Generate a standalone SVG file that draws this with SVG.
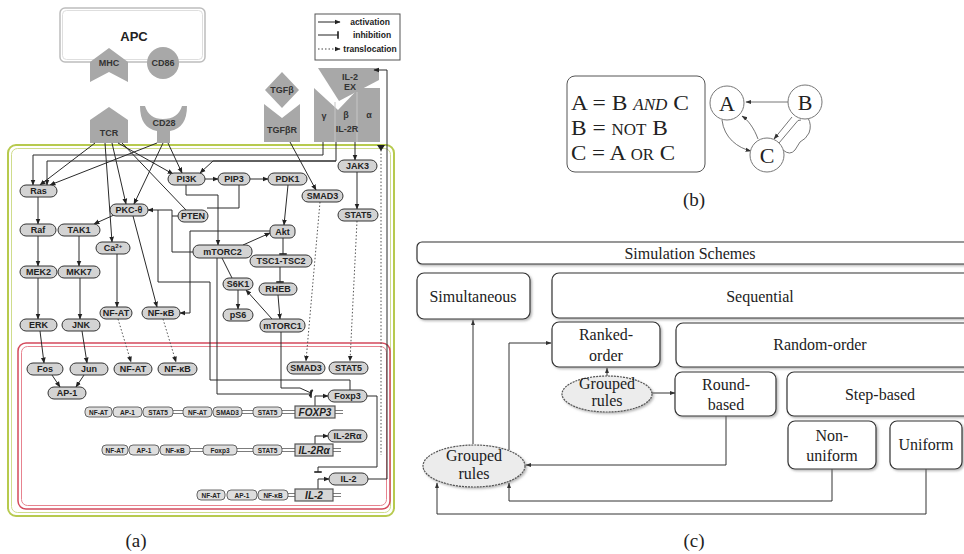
<svg xmlns="http://www.w3.org/2000/svg" width="964" height="554" viewBox="0 0 964 554">
<defs>
<marker id="ar" viewBox="0 0 10 10" refX="9" refY="5" markerWidth="6" markerHeight="6" orient="auto" markerUnits="userSpaceOnUse"><path d="M0,1 L10,5 L0,9 z" fill="#222"/></marker>
<marker id="inh" viewBox="0 0 4 10" refX="2" refY="5" markerWidth="3" markerHeight="8" orient="auto" markerUnits="userSpaceOnUse"><path d="M2,0 V10" stroke="#222" stroke-width="2.2"/></marker>
<marker id="arc" viewBox="0 0 10 10" refX="9" refY="5" markerWidth="6" markerHeight="6" orient="auto" markerUnits="userSpaceOnUse"><path d="M0,1.5 L10,5 L0,8.5 z" fill="#333"/></marker>
<filter id="sh" x="-5%" y="-10%" width="115%" height="130%"><feDropShadow dx="1.5" dy="1.5" stdDeviation="1" flood-color="#777" flood-opacity="0.55"/></filter>
</defs>
<style>
.n rect{fill:#d3d3d3;stroke:#333;stroke-width:1}
.n text,.g text,.rc text,.lg text{font-family:"Liberation Sans",Arial,sans-serif;font-weight:bold;fill:#222;text-anchor:middle}
.n text{font-size:9px}
.g rect{fill:#dedede;stroke:#444;stroke-width:0.8}
.g text{font-size:6.5px}
.g .gn{fill:#d6d6d6;stroke:#555;stroke-width:1.2}
.g .gt{font-size:10px;font-style:italic}
.g line{stroke:#444;stroke-width:0.7}
.rc .s{fill:#a8a8a8}
.rc text{font-size:9px;fill:#333}
.e path{fill:none;stroke:#2a2a2a;stroke-width:1}
.e .a{marker-end:url(#ar)}
.e .i{marker-end:url(#inh)}
.e .d{stroke-dasharray:1.5 2;stroke:#555}
.c rect,.c ellipse{fill:#fff;stroke:#333;stroke-width:1.2;filter:url(#sh)}
.c ellipse{fill:#ececec;stroke:#555;stroke-dasharray:2 1}
.c text,.bt,.lbl{font-family:"Liberation Serif","Times New Roman",serif;fill:#222;text-anchor:middle}
.c text{font-size:16px}
.bt.st{text-anchor:start}
.ce path{fill:none;stroke:#333;stroke-width:1;marker-end:url(#arc)}
.lbl{font-size:19px}
</style>
<rect width="964" height="554" fill="#fff"/>

<!-- Panel (a) frames -->
<g id="cytoplasm">
<rect x="8" y="145" width="386" height="371" rx="8" fill="none" stroke="#b7ca4e" stroke-width="2"/>
<rect x="11.5" y="148.5" width="379" height="364" rx="6" fill="none" stroke="#cfdc8c" stroke-width="1"/>
</g>
<g id="nucleus">
<rect x="18" y="343" width="372" height="166" rx="8" fill="none" stroke="#d44a5c" stroke-width="1.5"/>
<rect x="21.5" y="346.5" width="365" height="159" rx="6" fill="none" stroke="#e7838f" stroke-width="1"/>
</g>

<g id="apc">
<rect x="60" y="8" width="145" height="54" rx="5" fill="#fff" stroke="#bdbdbd" stroke-width="1.5"/>
<rect x="62.5" y="10.5" width="140" height="49" rx="4" fill="none" stroke="#dedede" stroke-width="1"/>
<text x="134" y="41" font-family="Liberation Sans,Arial,sans-serif" font-weight="bold" font-size="13" text-anchor="middle" fill="#222">APC</text>
</g>
<g class="rc" id="mhc"><polygon class="s" points="109,48 128,62 128,82 109,72 90,82 90,62"/><text x="109" y="66">MHC</text></g>
<g class="rc" id="cd86"><circle class="s" cx="163" cy="63" r="16"/><text x="163" y="66">CD86</text></g>
<g class="rc" id="tcr"><polygon class="s" points="109,107 128,120 128,143 90,143 90,120"/><text x="109" y="136">TCR</text></g>
<g class="rc" id="cd28"><path class="s" d="M140,106 Q140,128 157,131 V143 H170 V131 Q187,128 187,106 L182,106 Q178,119 163,119 Q149,119 145,106 Z"/><text x="164" y="126">CD28</text></g>
<g class="rc" id="tgfb"><polygon class="s" points="282,72 299,90 282,108 265,90"/><text x="282" y="93">TGFβ</text></g>
<g class="rc" id="tgfbr"><polygon class="s" points="264,104 282,118 300,104 300,142 264,142"/><text x="282" y="133">TGFβR</text></g>
<g class="rc" id="il2ex"><polygon class="s" points="318,68 379,68 379,80 339,101"/><text x="350" y="80">IL-2</text><text x="350" y="90">EX</text></g>
<g class="rc" id="il2r"><polygon class="s" points="314,88 338,110 359,88 380,88 380,142 314,142"/>
<path d="M335,102 V142 M357,92 V142" stroke="#c6c6c6" stroke-width="1"/>
<text x="324" y="119">γ</text><text x="346" y="118">β</text><text x="369" y="118">α</text><text x="347" y="132">IL-2R</text></g>

<g class="lg" id="legend">
<rect x="315" y="14" width="85" height="46" fill="#fff" stroke="#555" stroke-width="1"/>
<path d="M318,22 H340" stroke="#222" marker-end="url(#ar)"/>
<path d="M318,35 H338" stroke="#222" marker-end="url(#inh)"/>
<path d="M318,49 H340" stroke="#444" stroke-dasharray="1.5 2" marker-end="url(#ar)"/>
<text x="370" y="25" font-size="8.5">activation</text>
<text x="372" y="38" font-size="8.5">inhibition</text>
<text x="370" y="52" font-size="8.5">translocation</text>
</g>

<!-- connectors -->
<g class="e" id="connectors-a">
<path class="a" d="M323,142 V155 H33 V185"/>
<path class="a" d="M336,142 V161 H47 V185"/>
<path class="a" d="M336,161 H213 L200,173"/>
<path class="a" d="M95,143 L40,185"/>
<path class="a" d="M157,143 L50,185"/>
<path class="a" d="M112,143 L126,204"/>
<path class="a" d="M105,143 L112,242"/>
<path class="a" d="M118,143 L173,174"/>
<path d="M122,143 L186,210"/>
<path class="a" d="M163,143 L134,204"/>
<path class="a" d="M168,143 L182,173"/>
<path class="a" d="M38,197 V224"/>
<path class="a" d="M38,236 V266"/>
<path class="a" d="M38,278 V319"/>
<path class="a" d="M79,236 V266"/>
<path class="a" d="M80,278 V319"/>
<path class="a" d="M40,331 L44,363"/>
<path class="a" d="M82,331 L87,363"/>
<path class="a" d="M52,375 L60,387"/>
<path class="a" d="M84,375 L76,387"/>
<path class="a" d="M114,215 L94,224"/>
<path class="a" d="M117,254 V307"/>
<path class="a" d="M133,216 L157,307"/>
<path class="a" d="M205,179 H218"/>
<path class="a" d="M250,179 H268"/>
<path class="a" d="M288,185 L284,225"/>
<path class="a" d="M243,245 L270,233"/>
<path class="a" d="M272,319 L246,290"/>
<path class="a" d="M238,290 V309"/>
<path class="a" d="M278,295 L280,319"/>
<path class="a" d="M290,142 L316,190"/>
<path class="a" d="M355,142 V160"/>
<path class="a" d="M357,172 V209"/>
<path class="a" d="M186,185 V195 H218 V245"/>
<path class="a" d="M270,231 H190 V313 H180"/>
<path class="a" d="M193,252 H172 V210 H148"/>
<path d="M178,216 H172"/>
<path d="M239,185 V208 H207"/>
<path d="M158,210 V282 H210 V380 H350 V390"/>
<path d="M222,258 L232,278"/>
<path class="i" d="M283,238 V254"/>
<path class="i" d="M280,267 V282"/>
<path class="i" d="M217,258 V394 H311"/>
<path class="i" d="M281,332 V388 H300 L311,393"/>
<path class="i" d="M367,396 H377 V467 H318 V472"/>
<path class="a" d="M315,407 V396 H328"/>
<path class="a" d="M315,445 V436 H328"/>
<path class="a" d="M318,490 V479 H329"/>
<path class="a" d="M368,479 H387 V70 H374"/>
<path class="d a" d="M118,319 L131,362"/>
<path class="d a" d="M163,319 L176,362"/>
<path class="d a" d="M320,202 L306,361"/>
<path class="d a" d="M357,221 L350,361"/>
<path class="d" d="M381,150 V455"/>
</g>
<polygon points="377,145 385,145 381,151" fill="#222"/>

<!-- nodes -->
<g class="n" id="ras"><rect x="20" y="185" width="37" height="12" rx="6"/><text x="38.5" y="194">Ras</text></g>
<g class="n" id="raf"><rect x="20" y="224" width="36" height="12" rx="6"/><text x="38" y="233">Raf</text></g>
<g class="n" id="tak1"><rect x="58" y="224" width="42" height="12" rx="6"/><text x="79" y="233">TAK1</text></g>
<g class="n" id="pkc"><rect x="110" y="204" width="38" height="12" rx="6"/><text x="129" y="213">PKC-θ</text></g>
<g class="n" id="pten"><rect x="178" y="210" width="30" height="12" rx="6"/><text x="193" y="219">PTEN</text></g>
<g class="n" id="ca"><rect x="96" y="242" width="34" height="12" rx="6"/><text x="113" y="251">Ca<tspan font-size="6" dy="-3">2+</tspan></text></g>
<g class="n" id="mek2"><rect x="20" y="266" width="37" height="12" rx="6"/><text x="38.5" y="275">MEK2</text></g>
<g class="n" id="mkk7"><rect x="58" y="266" width="42" height="12" rx="6"/><text x="79" y="275">MKK7</text></g>
<g class="n" id="nfat-c"><rect x="100" y="307" width="32" height="12" rx="6"/><text x="116" y="316">NF-AT</text></g>
<g class="n" id="nfkb-c"><rect x="142" y="307" width="38" height="12" rx="6"/><text x="161" y="316">NF-κB</text></g>
<g class="n" id="erk"><rect x="20" y="319" width="37" height="12" rx="6"/><text x="38.5" y="328">ERK</text></g>
<g class="n" id="jnk"><rect x="62" y="319" width="38" height="12" rx="6"/><text x="81" y="328">JNK</text></g>
<g class="n" id="pi3k"><rect x="168" y="173" width="37" height="12" rx="6"/><text x="186.5" y="182">PI3K</text></g>
<g class="n" id="pip3"><rect x="218" y="173" width="32" height="12" rx="6"/><text x="234" y="182">PIP3</text></g>
<g class="n" id="pdk1"><rect x="268" y="173" width="39" height="12" rx="6"/><text x="287.5" y="182">PDK1</text></g>
<g class="n" id="smad3-c"><rect x="302" y="190" width="41" height="12" rx="6"/><text x="322.5" y="199">SMAD3</text></g>
<g class="n" id="jak3"><rect x="338" y="160" width="39" height="12" rx="6"/><text x="357.5" y="169">JAK3</text></g>
<g class="n" id="stat5-c"><rect x="338" y="209" width="40" height="12" rx="6"/><text x="358" y="218">STAT5</text></g>
<g class="n" id="akt"><rect x="270" y="225" width="25" height="13" rx="5"/><text x="282.5" y="234.5">Akt</text></g>
<g class="n" id="mtorc2"><rect x="193" y="245" width="59" height="13" rx="6"/><text x="222.5" y="254.5">mTORC2</text></g>
<g class="n" id="tsc"><rect x="250" y="255" width="62" height="12" rx="6"/><text x="281" y="264">TSC1-TSC2</text></g>
<g class="n" id="s6k1"><rect x="223" y="278" width="30" height="12" rx="6"/><text x="238" y="287">S6K1</text></g>
<g class="n" id="rheb"><rect x="259" y="283" width="38" height="12" rx="6"/><text x="278" y="292">RHEB</text></g>
<g class="n" id="ps6"><rect x="223" y="309" width="30" height="12" rx="6"/><text x="238" y="318">pS6</text></g>
<g class="n" id="mtorc1"><rect x="260" y="319" width="45" height="13" rx="6"/><text x="282.5" y="328.5">mTORC1</text></g>
<g class="n" id="fos"><rect x="27" y="363" width="36" height="12" rx="6"/><text x="45" y="372">Fos</text></g>
<g class="n" id="jun"><rect x="70" y="363" width="38" height="12" rx="6"/><text x="89" y="372">Jun</text></g>
<g class="n" id="nfat-n"><rect x="114" y="363" width="38" height="12" rx="6"/><text x="133" y="372">NF-AT</text></g>
<g class="n" id="nfkb-n"><rect x="158" y="363" width="39" height="12" rx="6"/><text x="177.5" y="372">NF-κB</text></g>
<g class="n" id="ap1"><rect x="48" y="387" width="38" height="12" rx="6"/><text x="67" y="396">AP-1</text></g>
<g class="n" id="smad3-n"><rect x="287" y="362" width="38" height="12" rx="6"/><text x="306" y="371">SMAD3</text></g>
<g class="n" id="stat5-n"><rect x="329" y="362" width="39" height="12" rx="6"/><text x="348.5" y="371">STAT5</text></g>
<g class="n" id="foxp3"><rect x="328" y="390" width="39" height="12" rx="6"/><text x="347.5" y="399">Foxp3</text></g>
<g class="n" id="il2ra"><rect x="328" y="430" width="39" height="12" rx="6"/><text x="347.5" y="439">IL-2Rα</text></g>
<g class="n" id="il2"><rect x="329" y="473" width="39" height="12" rx="6"/><text x="348.5" y="482">IL-2</text></g>

<!-- gene promoters -->
<g class="g" id="gene-foxp3">
<line x1="173" y1="410.5" x2="183" y2="410.5"/><line x1="173" y1="413.5" x2="183" y2="413.5"/>
<line x1="242" y1="410.5" x2="253" y2="410.5"/><line x1="242" y1="413.5" x2="253" y2="413.5"/>
<line x1="282" y1="410.5" x2="295" y2="410.5"/><line x1="282" y1="413.5" x2="295" y2="413.5"/>
<line x1="335" y1="410.5" x2="343" y2="410.5"/><line x1="335" y1="413.5" x2="343" y2="413.5"/>
<rect x="85" y="407" width="27" height="10" rx="4"/><text x="98.5" y="414.5">NF-AT</text>
<rect x="113" y="407" width="29" height="10" rx="4"/><text x="127.5" y="414.5">AP-1</text>
<rect x="143" y="407" width="30" height="10" rx="4"/><text x="158" y="414.5">STAT5</text>
<rect x="183" y="407" width="29" height="10" rx="4"/><text x="197.5" y="414.5">NF-AT</text>
<rect x="213" y="407" width="29" height="10" rx="4"/><text x="227.5" y="414.5">SMAD3</text>
<rect x="253" y="407" width="29" height="10" rx="4"/><text x="267.5" y="414.5">STAT5</text>
<rect class="gn" x="295" y="406" width="40" height="12"/><text class="gt" x="315" y="415.5">FOXP3</text>
</g>
<g class="g" id="gene-il2ra">
<line x1="190" y1="448.5" x2="203" y2="448.5"/><line x1="190" y1="451.5" x2="203" y2="451.5"/>
<line x1="237" y1="448.5" x2="253" y2="448.5"/><line x1="237" y1="451.5" x2="253" y2="451.5"/>
<line x1="282" y1="448.5" x2="295" y2="448.5"/><line x1="282" y1="451.5" x2="295" y2="451.5"/>
<line x1="333" y1="448.5" x2="341" y2="448.5"/><line x1="333" y1="451.5" x2="341" y2="451.5"/>
<rect x="102" y="445" width="26" height="10" rx="4"/><text x="115" y="452.5">NF-AT</text>
<rect x="129" y="445" width="30" height="10" rx="4"/><text x="144" y="452.5">AP-1</text>
<rect x="160" y="445" width="30" height="10" rx="4"/><text x="175" y="452.5">NF-κB</text>
<rect x="203" y="445" width="34" height="10" rx="4"/><text x="220" y="452.5">Foxp3</text>
<rect x="253" y="445" width="29" height="10" rx="4"/><text x="267.5" y="452.5">STAT5</text>
<rect class="gn" x="295" y="444" width="38" height="12"/><text class="gt" x="314" y="453.5">IL-2Rα</text>
</g>
<g class="g" id="gene-il2">
<line x1="288" y1="493.5" x2="295" y2="493.5"/><line x1="288" y1="496.5" x2="295" y2="496.5"/>
<line x1="333" y1="493.5" x2="341" y2="493.5"/><line x1="333" y1="496.5" x2="341" y2="496.5"/>
<rect x="197" y="490" width="28" height="10" rx="4"/><text x="211" y="497.5">NF-AT</text>
<rect x="227" y="490" width="30" height="10" rx="4"/><text x="242" y="497.5">AP-1</text>
<rect x="258" y="490" width="30" height="10" rx="4"/><text x="273" y="497.5">NF-κB</text>
<rect class="gn" x="295" y="489" width="38" height="12"/><text class="gt" x="314" y="498.5">IL-2</text>
</g>

<text class="lbl" x="136" y="547">(a)</text>

<!-- Panel (b) -->
<g id="rules">
<rect x="567" y="76" width="138" height="96" rx="8" fill="#fff" stroke="#555" stroke-width="1"/>
<text class="bt st" x="571" y="110" font-size="22" textLength="118" lengthAdjust="spacingAndGlyphs">A = B <tspan font-style="italic" font-size="16">AND</tspan> C</text>
<text class="bt st" x="571" y="135" font-size="22" textLength="97" lengthAdjust="spacingAndGlyphs">B = <tspan font-size="16">NOT</tspan> B</text>
<text class="bt st" x="571" y="160" font-size="22" textLength="104" lengthAdjust="spacingAndGlyphs">C = A <tspan font-size="16">OR</tspan> C</text>
</g>
<g id="bgraph-edges" fill="none" stroke="#666" stroke-width="0.9">
<path d="M788,102 H746" marker-end="url(#arc)"/>
<path d="M722,120 C724,138 738,148 751,151" marker-end="url(#arc)"/>
<path d="M758,139 C754,128 748,120 742,116" marker-end="url(#arc)"/>
<path d="M792,117 L774,139" marker-end="url(#arc)"/>
<path d="M783,150 Q790,156 795,150 L800,142 Q806,139 809,133 Q812,125 808,118"/>
<path d="M779,143 L795,124 Q798,119 801,120"/>
</g>
<g id="node-A"><circle cx="727" cy="103" r="17" fill="#fff" stroke="#777"/><text class="bt" x="727" y="111" font-size="22">A</text></g>
<g id="node-B"><circle cx="805" cy="102" r="17" fill="#fff" stroke="#777"/><text class="bt" x="805" y="110" font-size="22">B</text></g>
<g id="node-C"><circle cx="767" cy="155" r="17" fill="#fff" stroke="#777"/><text class="bt" x="767" y="163" font-size="22">C</text></g>
<text class="lbl" x="694" y="206">(b)</text>

<!-- Panel (c) -->
<g class="ce" id="connectors-c">
<path d="M473,444 V320"/>
<path d="M509,450 V343 H551"/>
<path d="M607,376 V368"/>
<path d="M651,393 H675"/>
<path d="M726,416 V465 H526"/>
<path d="M832,469 V501 H509 V483"/>
<path d="M926,469 V514 H437 V483"/>
</g>
<g class="c" id="sim-schemes"><rect x="417" y="242" width="560" height="22" rx="5"/><text x="690" y="259" font-size="15">Simulation Schemes</text></g>
<g class="c" id="simultaneous"><rect x="417" y="273" width="113" height="46" rx="7"/><text x="473" y="302">Simultaneous</text></g>
<g class="c" id="sequential"><rect x="552" y="273" width="425" height="45" rx="7"/><text x="760" y="302">Sequential</text></g>
<g class="c" id="ranked"><rect x="552" y="322" width="108" height="45" rx="7"/><text x="606" y="340">Ranked-</text><text x="606" y="361">order</text></g>
<g class="c" id="random"><rect x="676" y="323" width="301" height="44" rx="7"/><text x="820" y="350">Random-order</text></g>
<g class="c" id="round"><rect x="675" y="372" width="101" height="44" rx="7"/><text x="726" y="390">Round-</text><text x="726" y="410">based</text></g>
<g class="c" id="step"><rect x="787" y="372" width="190" height="44" rx="7"/><text x="880" y="400">Step-based</text></g>
<g class="c" id="nonuniform"><rect x="788" y="421" width="88" height="48" rx="7"/><text x="832" y="441">Non-</text><text x="832" y="461">uniform</text></g>
<g class="c" id="uniform"><rect x="890" y="421" width="72" height="48" rx="7"/><text x="926" y="450">Uniform</text></g>
<g class="c" id="grouped-1"><ellipse cx="607" cy="394" rx="45" ry="18"/><text x="607" y="389" font-size="14">Grouped</text><text x="607" y="406" font-size="14">rules</text></g>
<g class="c" id="grouped-2"><ellipse cx="474" cy="466" rx="51" ry="21"/><text x="474" y="461" font-size="14">Grouped</text><text x="474" y="479" font-size="14">rules</text></g>
<text class="lbl" x="694" y="547">(c)</text>
</svg>
